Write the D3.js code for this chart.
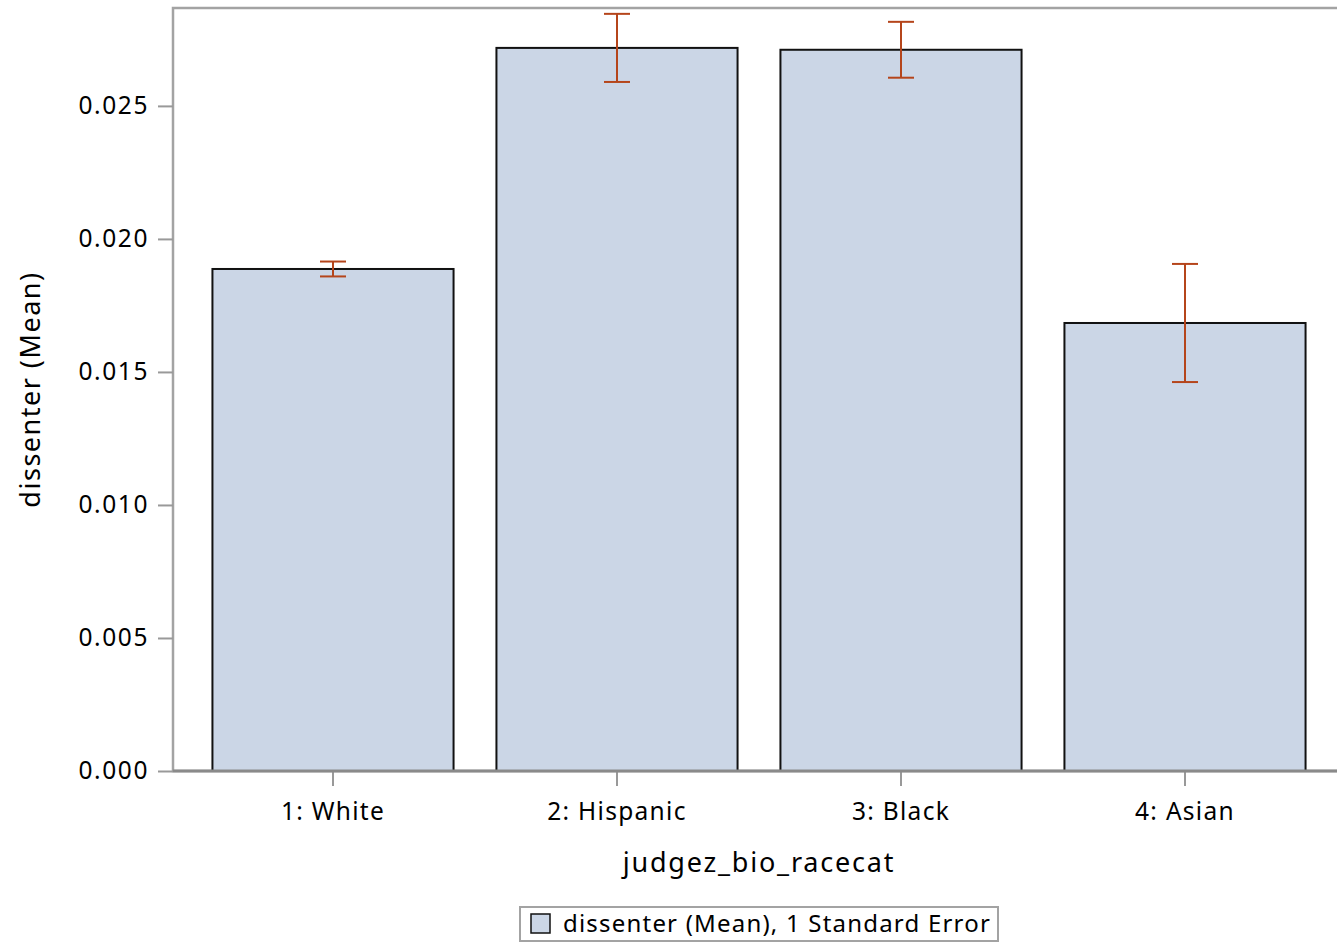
<!DOCTYPE html>
<html>
<head>
<meta charset="utf-8">
<script src="https://cdn.jsdelivr.net/npm/d3@7"></script>
<style>
  body { margin: 0; background: #fff; }
  svg { display: block; font-family: "Noto Sans", sans-serif; }
</style>
</head>
<body>
<svg id="chart" width="1337" height="943"></svg>
<script>
// values
const categories = ["1: White", "2: Hispanic", "3: Black", "4: Asian"];
const means = [0.01887, 0.02718, 0.02711, 0.01684];
const stdErrors = [0.00028, 0.00128, 0.00105, 0.00222];
const yTicks = [0, 0.005, 0.010, 0.015, 0.020, 0.025];

const data = categories.map((c, i) => ({ cat: c, mean: means[i], se: stdErrors[i] }));

const svg = d3.select("#chart");
const plotLeft = 173, plotRight = 1345, plotTop = 8, plotBottom = 771;

const x = d3.scaleBand()
	.domain(categories)
	.range([plotLeft + 18, plotRight - 18])
	.paddingInner(0.151)
	.paddingOuter(0.0755);

const y = d3.scaleLinear()
	.domain([0, 0.02868])
	.range([plotBottom, plotTop]);

// frame
svg.append("rect")
	.attr("x", plotLeft).attr("y", plotTop)
	.attr("width", plotRight - plotLeft).attr("height", plotBottom - plotTop)
	.attr("fill", "none")
	.attr("stroke", "#a3a3a3")
	.attr("stroke-width", 2.5);

// bars
svg.selectAll(".bar")
	.data(data)
	.join("rect")
	.attr("class", "bar")
	.attr("x", d => x(d.cat))
	.attr("y", d => y(d.mean))
	.attr("width", x.bandwidth())
	.attr("height", d => plotBottom - y(d.mean))
	.attr("fill", "#cbd6e6")
	.attr("stroke", "#111")
	.attr("stroke-width", 2);

// error bars
const errColor = "#b5451b";
const eb = svg.selectAll(".err")
	.data(data)
	.join("g")
	.attr("class", "err")
	.attr("transform", d => "translate(" + (x(d.cat) + x.bandwidth() / 2) + ",0)");

eb.append("line")
	.attr("y1", d => y(d.mean + d.se))
	.attr("y2", d => y(d.mean - d.se))
	.attr("stroke", errColor).attr("stroke-width", 2);
eb.append("line")
	.attr("x1", -13).attr("x2", 13)
	.attr("y1", d => y(d.mean + d.se)).attr("y2", d => y(d.mean + d.se))
	.attr("stroke", errColor).attr("stroke-width", 2);
eb.append("line")
	.attr("x1", -13).attr("x2", 13)
	.attr("y1", d => y(d.mean - d.se)).attr("y2", d => y(d.mean - d.se))
	.attr("stroke", errColor).attr("stroke-width", 2);

// axes
const yAxis = svg.append("g")
	.attr("transform", "translate(" + plotLeft + ",0)")
	.call(d3.axisLeft(y).tickValues(yTicks).tickFormat(d3.format(".3f")).tickSize(15).tickPadding(9));
yAxis.select(".domain").remove();
yAxis.selectAll(".tick line").attr("stroke", "#999").attr("stroke-width", 2);
yAxis.selectAll(".tick text").attr("fill", "#000")
	.style("font-size", "24.5px").style("letter-spacing", "1.6px").style("font-family", "Noto Sans");

const xAxis = svg.append("g")
	.attr("transform", "translate(0," + plotBottom + ")")
	.call(d3.axisBottom(x).tickSize(15).tickPadding(17));
xAxis.select(".domain").remove();
xAxis.selectAll(".tick line").attr("stroke", "#999").attr("stroke-width", 2);
xAxis.selectAll(".tick text").attr("fill", "#000")
	.style("font-size", "24.5px").style("letter-spacing", "1.3px").style("font-family", "Noto Sans");

// bottom axis line sits over the frame
svg.append("line")
	.attr("x1", plotLeft).attr("x2", plotRight)
	.attr("y1", plotBottom).attr("y2", plotBottom)
	.attr("stroke", "#8a8a8a").attr("stroke-width", 3);

// axis titles
svg.append("text")
	.attr("x", (plotLeft + plotRight) / 2).attr("y", 872)
	.attr("text-anchor", "middle")
	.style("font-size", "27px").style("letter-spacing", "1.8px")
	.text("judgez_bio_racecat");

svg.append("text")
	.attr("transform", "translate(40," + (plotTop + plotBottom) / 2 + ") rotate(-90)")
	.attr("text-anchor", "middle")
	.style("font-size", "27px").style("letter-spacing", "1.5px")
	.text("dissenter (Mean)");

// legend
const lg = svg.append("g");
lg.append("rect")
	.attr("x", 520).attr("y", 907).attr("width", 478).attr("height", 34)
	.attr("fill", "#fff").attr("stroke", "#a3a3a3").attr("stroke-width", 2);
lg.append("rect")
	.attr("x", 531).attr("y", 914).attr("width", 19).attr("height", 19)
	.attr("fill", "#cbd6e6").attr("stroke", "#111").attr("stroke-width", 1.5);
lg.append("text")
	.attr("x", 563).attr("y", 932)
	.style("font-size", "24px").style("letter-spacing", "1.2px")
	.text("dissenter (Mean), 1 Standard Error");
</script>
</body>
</html>
